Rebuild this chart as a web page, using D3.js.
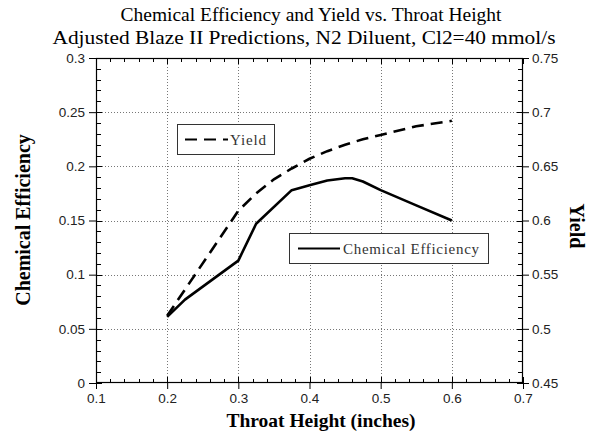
<!DOCTYPE html>
<html>
<head>
<meta charset="utf-8">
<script src="https://cdn.jsdelivr.net/npm/d3@7/dist/d3.min.js"></script>
<style>
  html, body { margin: 0; padding: 0; background: #fff; }
  svg { display: block; }
</style>
</head>
<body>
<svg id="chart" width="592" height="433"></svg>
<script>
// Throat height (inches) for each model run
const effHeights   = [0.2, 0.225, 0.3, 0.325, 0.375, 0.4, 0.425, 0.45, 0.46, 0.475, 0.5, 0.55, 0.6];
// Chemical efficiency (left axis)
const effValues    = [0.061, 0.077, 0.113, 0.147, 0.178, 0.1825, 0.187, 0.189, 0.189, 0.186, 0.178, 0.164, 0.150];

const yieldHeights = [0.2, 0.3, 0.325, 0.35, 0.375, 0.4, 0.425, 0.45, 0.475, 0.5, 0.55, 0.6];
// Yield (right axis)
const yieldValues  = [0.512, 0.609, 0.625, 0.638, 0.648, 0.657, 0.664, 0.670, 0.675, 0.679, 0.687, 0.692];

const xTickValues  = [0.1, 0.2, 0.3, 0.4, 0.5, 0.6, 0.7];
const xTickLabels  = ["0.1", "0.2", "0.3", "0.4", "0.5", "0.6", "0.7"];
const yLTickValues = [0, 0.05, 0.1, 0.15, 0.2, 0.25, 0.3];
const yLTickLabels = ["0", "0.05", "0.1", "0.15", "0.2", "0.25", "0.3"];
const yRTickValues = [0.45, 0.5, 0.55, 0.6, 0.65, 0.7, 0.75];
const yRTickLabels = ["0.45", "0.5", "0.55", "0.6", "0.65", "0.7", "0.75"];

const titleLines = [
  "Chemical Efficiency and Yield vs. Throat Height",
  "Adjusted Blaze II Predictions, N2 Diluent, Cl2=40 mmol/s"
];

const svg = d3.select("#chart");
const L = 96, R = 523, T = 58, B = 383;

const x  = d3.scaleLinear().domain([0.1, 0.7]).range([L, R]);
const yL = d3.scaleLinear().domain([0, 0.3]).range([B, T]);
const yR = d3.scaleLinear().domain([0.45, 0.75]).range([B, T]);

const serif = "'Liberation Serif', 'Times New Roman', serif";
const sans  = "'Liberation Sans', Arial, sans-serif";

// titles
svg.append("text").attr("x", 311).attr("y", 21)
  .attr("text-anchor", "middle").attr("font-family", serif).attr("font-size", 19)
  .attr("textLength", 381).attr("lengthAdjust", "spacingAndGlyphs")
  .text(titleLines[0]);
svg.append("text").attr("x", 304).attr("y", 44)
  .attr("text-anchor", "middle").attr("font-family", serif).attr("font-size", 19)
  .attr("textLength", 503).attr("lengthAdjust", "spacingAndGlyphs")
  .text(titleLines[1]);

// dotted grid
const grid = svg.append("g").attr("stroke", "#777").attr("stroke-width", 1)
  .attr("stroke-dasharray", "1,2");
grid.selectAll("line.v").data(xTickValues.slice(1, -1)).join("line")
  .attr("x1", d => Math.round(x(d)) + 0.5).attr("x2", d => Math.round(x(d)) + 0.5)
  .attr("y1", T).attr("y2", B);
grid.selectAll("line.h").data(yLTickValues.slice(1, -1)).join("line")
  .attr("y1", d => Math.round(yL(d)) + 0.5).attr("y2", d => Math.round(yL(d)) + 0.5)
  .attr("x1", L).attr("x2", R);

// axes: outward labelled ticks
function styleAxis(g, labels) {
  g.select(".domain").remove();
  g.selectAll(".tick line").attr("stroke", "#000");
  g.selectAll(".tick text").attr("font-family", sans).attr("font-size", 13.5).attr("fill", "#222");
  if (labels) g.selectAll(".tick text").text((d, i) => labels[i]);
}
svg.append("g").attr("transform", `translate(0,${B})`)
  .call(d3.axisBottom(x).tickValues(xTickValues).tickSize(6).tickPadding(4))
  .call(g => styleAxis(g, xTickLabels));
svg.append("g").attr("transform", `translate(${L},0)`)
  .call(d3.axisLeft(yL).tickValues(yLTickValues).tickSize(7).tickPadding(4))
  .call(g => styleAxis(g, yLTickLabels));
svg.append("g").attr("transform", `translate(${R},0)`)
  .call(d3.axisRight(yR).tickValues(yRTickValues).tickSize(6).tickPadding(3))
  .call(g => styleAxis(g, yRTickLabels));

// inward ticks (major and minor) on all four sides
const xMinor = d3.range(0.1, 0.7001, 0.02);
const yMinor = d3.range(0, 0.3001, 0.01);
const inner = svg.append("g").attr("stroke", "#000").attr("stroke-width", 1);
function isMajor(v, step) { return Math.abs(v / step - Math.round(v / step)) < 1e-6; }
xMinor.forEach(v => {
  const len = isMajor(v, 0.1) ? 6 : 4;
  const px = Math.round(x(v)) + 0.5;
  inner.append("line").attr("x1", px).attr("x2", px).attr("y1", B).attr("y2", B - len);
  inner.append("line").attr("x1", px).attr("x2", px).attr("y1", T).attr("y2", T + len);
});
yMinor.forEach(v => {
  const len = isMajor(v, 0.05) ? 6 : 5;
  const py = Math.round(yL(v)) + 0.5;
  inner.append("line").attr("x1", L).attr("x2", L + len).attr("y1", py).attr("y2", py);
  inner.append("line").attr("x1", R).attr("x2", R - len).attr("y1", py).attr("y2", py);
});

// frame
svg.append("rect").attr("x", L + 0.5).attr("y", T + 0.5)
  .attr("width", R - L - 1).attr("height", B - T - 1)
  .attr("fill", "none").attr("stroke", "#000").attr("stroke-width", 1.2);

// axis titles
svg.append("text").attr("x", 321).attr("y", 427).attr("text-anchor", "middle")
  .attr("font-family", serif).attr("font-size", 19.5).attr("font-weight", "bold")
  .text("Throat Height (inches)");
svg.append("text").attr("transform", "translate(30,220) rotate(-90)")
  .attr("text-anchor", "middle").attr("font-family", serif).attr("font-size", 20)
  .attr("font-weight", "bold").text("Chemical Efficiency");
svg.append("text").attr("transform", "translate(570,226) rotate(90)")
  .attr("text-anchor", "middle").attr("font-family", serif).attr("font-size", 20)
  .attr("font-weight", "bold").text("Yield");

// data lines
const effLine = d3.line().x(d => x(d[0])).y(d => yL(d[1]));
const yieldLine = d3.line().x(d => x(d[0])).y(d => yR(d[1]));

svg.append("path").datum(d3.zip(yieldHeights, yieldValues))
  .attr("d", yieldLine).attr("fill", "none").attr("stroke", "#000")
  .attr("stroke-width", 2.6).attr("stroke-dasharray", "12,7");
svg.append("path").datum(d3.zip(effHeights, effValues))
  .attr("d", effLine).attr("fill", "none").attr("stroke", "#000")
  .attr("stroke-width", 2.6).attr("stroke-linejoin", "round");

// legends
const lg1 = svg.append("g");
lg1.append("rect").attr("x", 177.5).attr("y", 124.5).attr("width", 97).attr("height", 30)
  .attr("fill", "#fff").attr("stroke", "#333").attr("stroke-width", 1);
lg1.append("line").attr("x1", 185).attr("x2", 228).attr("y1", 139.5).attr("y2", 139.5)
  .attr("stroke", "#000").attr("stroke-width", 2).attr("stroke-dasharray", "12,7");
lg1.append("text").attr("x", 230).attr("y", 145).attr("font-family", serif)
  .attr("font-size", 15).attr("fill", "#333")
  .attr("textLength", 36).attr("lengthAdjust", "spacing").text("Yield");

const lg2 = svg.append("g");
lg2.append("rect").attr("x", 289.5).attr("y", 233.5).attr("width", 199).attr("height", 30)
  .attr("fill", "#fff").attr("stroke", "#333").attr("stroke-width", 1);
lg2.append("line").attr("x1", 298).attr("x2", 340).attr("y1", 248.5).attr("y2", 248.5)
  .attr("stroke", "#000").attr("stroke-width", 2);
lg2.append("text").attr("x", 343).attr("y", 254).attr("font-family", serif)
  .attr("font-size", 15).attr("fill", "#333")
  .attr("textLength", 136).attr("lengthAdjust", "spacing").text("Chemical Efficiency");
</script>
</body>
</html>
